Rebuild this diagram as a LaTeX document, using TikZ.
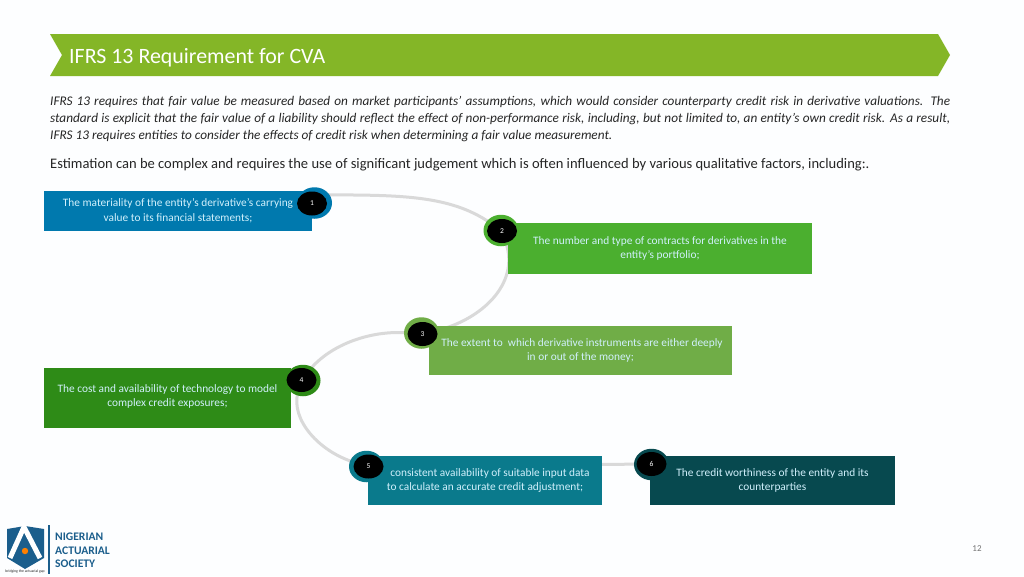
\documentclass[tikz,border=0pt]{standalone}
\usepackage{fontspec}
\setmainfont{Carlito}
\usetikzlibrary{shapes.geometric,backgrounds}
\definecolor{pagebg}{HTML}{FDFEFF}
\definecolor{bannergreen}{HTML}{84B627}
\definecolor{linkgray}{HTML}{D9D9D9}
\definecolor{bodytext}{HTML}{262626}
\definecolor{logoblue}{HTML}{1B5E8C}
\definecolor{fillone}{HTML}{0079AE}
\definecolor{filltwo}{HTML}{4BAF2F}
\definecolor{fillthree}{HTML}{70AD47}
\definecolor{fillfour}{HTML}{2E8B17}
\definecolor{fillfive}{HTML}{0A7A8C}
\definecolor{fillsix}{HTML}{07494F}
\tikzset{
  factorbox/.style={rectangle,inner sep=0pt,align=center,text=white!82!cyan,font=\fontsize{11.35}{14.8}\selectfont,execute at begin node=\rule{0pt}{10.5pt}},
  stepring/.style={ellipse,inner sep=0pt,minimum width=35pt,minimum height=31.5pt},
  stepdot/.style={ellipse,fill=black,inner sep=0pt,minimum width=30pt,minimum height=24pt,text=white,font=\fontsize{7.5}{8}\selectfont},
  linkline/.style={draw=linkgray,line width=3pt}
}
\begin{document}
\begin{tikzpicture}[x=1pt,y=-1pt]
    \useasboundingbox (0,0) rectangle (1024,576);
    \fill[bannergreen] (50,34) -- (938,34) -- (950,55) -- (938,76) -- (50,76) -- (62,55) -- cycle;
    \node [anchor=west,inner sep=0pt,text=white,font=\fontsize{21.9}{24}\selectfont] (title) at (69,57.5) {IFRS 13 Requirement for CVA};
    \node [anchor=north west,inner sep=0pt,align=left,text=bodytext,font=\fontsize{13.25}{17}\selectfont\itshape] (intro) at (50,96) {%
      \makebox[900pt][s]{IFRS 13 requires that fair value be measured based on market participants’ assumptions, which would consider counterparty credit risk in derivative valuations. The}\\
      \makebox[900pt][s]{standard is explicit that the fair value of a liability should reflect the effect of non-performance risk, including, but not limited to, an entity's own credit risk. As a result,}\\
      IFRS 13 requires entities to consider the effects of credit risk when determining a fair value measurement.};
    \node [anchor=west,inner sep=0pt,text=bodytext,font=\fontsize{14.55}{17}\selectfont] (lead) at (50,165) {Estimation can be complex and requires the use of significant judgement which is often influenced by various qualitative factors, including:.};

    \node [factorbox,fill=fillone,minimum width=268pt,minimum height=40pt] (factor1) at (178,211) {The materiality of the entity’s derivative’s carrying\\value to its financial statements;};
    \node [factorbox,fill=filltwo,minimum width=304pt,minimum height=51pt] (factor2) at (660,248.5) {The number and type of contracts for derivatives in the\\entity’s portfolio;};
    \node [factorbox,fill=fillthree,minimum width=303pt,minimum height=49pt] (factor3) at (580.5,350.5) {\hspace*{3pt}The extent to\ \ which derivative instruments are either deeply\\in or out of the money;};
    \node [factorbox,fill=fillfour,minimum width=247pt,minimum height=60pt] (factor4) at (167.5,398) {The cost and availability of technology to model\\complex credit exposures;\rule[-5pt]{0pt}{5pt}};
    \node [factorbox,fill=fillfive,minimum width=234pt,minimum height=49pt] (factor5) at (485,480.5) {\hspace*{10pt}consistent availability of suitable input data\\to calculate an accurate credit adjustment;};
    \node [factorbox,fill=fillsix,minimum width=245pt,minimum height=49pt] (factor6) at (772.5,480.5) {The credit worthiness of the entity and its\\counterparties};

    \node [stepring,fill=fillone] (ring1) at (314.5,203) {};
    \node [stepdot] (dot1) at (312,203.5) {1};
    \node [stepring,fill=filltwo] (ring2) at (501,230.5) {};
    \node [stepdot] (dot2) at (502,231) {2};
    \node [stepring,fill=fillthree] (ring3) at (421.5,333) {};
    \node [stepdot] (dot3) at (422.5,334) {3};
    \node [stepring,fill=fillfour] (ring4) at (303,380.5) {};
    \node [stepdot] (dot4) at (301.5,380) {4};
    \node [stepring,fill=fillfive] (ring5) at (366.5,466.5) {};
    \node [stepdot] (dot5) at (368.5,466.5) {5};
    \node [stepring,fill=fillsix] (ring6) at (651.5,464.5) {};
    \node [stepdot] (dot6) at (651.5,464) {6};

    \begin{scope}[on background layer]
      \fill[pagebg] (0,0) rectangle (1024,576);
      \draw[linkline] (dot1.north east) .. controls (400,195) and (450,195) .. (dot2);
      \draw[linkline] (dot2) .. controls (520,285) and (480,320) .. (dot3);
      \draw[linkline] (dot3) .. controls (370,330) and (330,345) .. (dot4);
      \draw[linkline] (dot4) .. controls (290,420) and (320,452) .. (dot5);
      \draw[linkline] (dot5) -- (dot6);
    \end{scope}

    \fill[logoblue] (7,529) -- (25,526) -- (44,529) -- (44,558) -- (25,569) -- (7,558) -- cycle;
    \draw[white,line width=5pt] (10,558) -- (24,527) -- (40,558);
    \fill[orange] (25,551) circle (3.2pt);
    \node [inner sep=0pt,text=bodytext,font=\fontsize{3.8}{5}\selectfont] (motto) at (25,571) {bridging the actuarial gap};
    \draw[logoblue,line width=1.2pt] (49,525) -- (49,574);
    \node [anchor=west,inner sep=0pt,text=logoblue,font=\fontsize{11.6}{14}\selectfont\bfseries] (logo1) at (55,536.5) {NIGERIAN};
    \node [anchor=west,inner sep=0pt,text=logoblue,font=\fontsize{11.6}{14}\selectfont\bfseries] (logo2) at (55,550.5) {ACTUARIAL};
    \node [anchor=west,inner sep=0pt,text=logoblue,font=\fontsize{11.6}{14}\selectfont\bfseries] (logo3) at (55,564) {SOCIETY};
    \node [inner sep=0pt,text=black!55,font=\fontsize{9}{10}\selectfont] (pagenum) at (977,549) {12};
\end{tikzpicture}
\end{document}
